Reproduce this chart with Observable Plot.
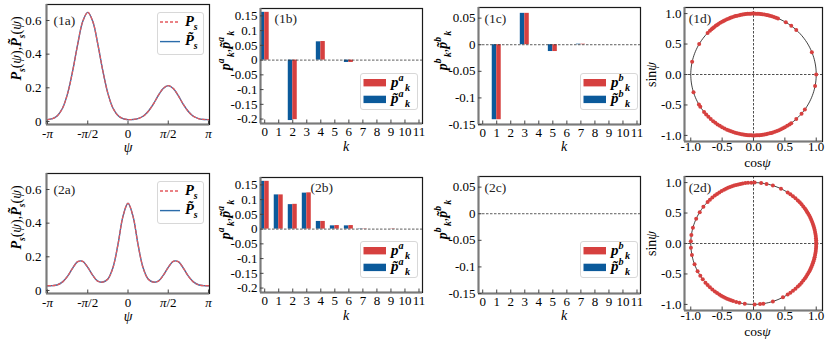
<!DOCTYPE html>
<html><head><meta charset="utf-8">
<script src="https://cdn.jsdelivr.net/npm/d3@7"></script>
<script src="https://cdn.jsdelivr.net/npm/@observablehq/plot@0.6"></script>
<style>
body{margin:0;background:#fff;}
#root{position:relative;width:830px;height:349px;overflow:hidden;background:#fff;font-family:"Liberation Serif",serif;}
#root svg{position:absolute;overflow:visible;font-family:"Liberation Serif","DejaVu Serif",serif !important;}
#root svg text{font-family:"Liberation Serif","DejaVu Serif",serif !important;}
</style></head>
<body><div id="root"></div>
<script>
const FONT = '"Liberation Serif","DejaVu Serif",serif';
const RED = "#d6403f", BLUE = "#0b5a9b";
const RED_LINE = "#e35a5e", BLUE_LINE = "#2b6caa";

// ---- data ----
const psiIndex = d3.range(33); // psi = -pi + n*pi/16
const ps1  = [0.011,0.017,0.036,0.080,0.167,0.300,0.459,0.594,0.648,0.594,0.459,0.300,0.167,0.080,0.036,0.017,0.011,0.012,0.017,0.031,0.059,0.101,0.153,0.196,0.213,0.196,0.153,0.101,0.059,0.031,0.017,0.012,0.011];
const ps1t = [0.011,0.017,0.036,0.080,0.167,0.300,0.459,0.594,0.648,0.594,0.459,0.300,0.167,0.080,0.036,0.017,0.011,0.012,0.017,0.031,0.059,0.101,0.153,0.196,0.213,0.196,0.153,0.101,0.059,0.031,0.017,0.012,0.011];
const ps2  = [0.028,0.029,0.034,0.051,0.085,0.133,0.171,0.173,0.137,0.090,0.055,0.050,0.068,0.135,0.272,0.440,0.518,0.440,0.272,0.135,0.068,0.050,0.055,0.090,0.137,0.173,0.171,0.133,0.085,0.051,0.034,0.029,0.028];
const ps2t = [0.028,0.029,0.034,0.051,0.085,0.133,0.171,0.173,0.137,0.090,0.055,0.050,0.068,0.135,0.272,0.440,0.518,0.440,0.272,0.135,0.068,0.050,0.055,0.090,0.137,0.173,0.171,0.133,0.085,0.051,0.034,0.029,0.028];
const psiTicks = [-Math.PI, -Math.PI/2, 0, Math.PI/2, Math.PI];
const psiTickLabels = ["-π","-π/2","0","π/2","π"];
const pTicks = [0,0.2,0.4,0.6];
const pTickLabels = ["0","0.2","0.4","0.6"];

const ks = [0,1,2,3,4,5,6,7,8,9,10,11];
const kLabels = ["0","1","2","3","4","5","6","7","8","9","10","11"];
const pa1  = [0.162,0,-0.202,0,0.063,0,-0.008,0,0,0,0,0];
const pa1t = [0.162,0,-0.205,0,0.062,0,-0.008,0,0,0,0,0];
const pb1  = [0,-0.141,0,0.059,0,-0.0128,0,0.001,0,0,0,0];
const pb1t = [0,-0.141,0,0.059,0,-0.0128,0,0.001,0,0,0,0];
const pa2  = [0.162,0.116,0.084,0.123,0.026,0.012,0.012,0.001,0,0.001,0,0];
const pa2t = [0.162,0.116,0.083,0.122,0.026,0.011,0.011,0.001,0,0,0,0];
const pb2  = [0,0,0,0,0,0,0,0,0,0,0,0];
const pb2t = [0,0,0,0,0,0,0,0,0,0,0,0];
const aTicks = [0.15,0.1,0.05,0,-0.05,-0.1,-0.15,-0.2];
const aTickLabels = ["0.15","0.1","0.05","0","-0.05","-0.1","-0.15","-0.2"];
const bTicks = [0.05,0,-0.05,-0.1,-0.15];
const bTickLabels = ["0.05","0","-0.05","-0.1","-0.15"];

// sample angles (degrees) on the unit circle
const ang1 = [168,150,137,134,132,130.5,129,127,125.5,124,122,120,118.5,117,115,113,111.5,110,108,106.5,105,103,101.5,100,98.5,97,95.5,94,92.5,91,89.5,88,86.5,85,83.5,82,80,78,76.5,75,73,71,69,67,59,53,47,21.5,0,-11,-35,-40,-47,-53,-55,-57.5,-60,-62,-64,-66,-68,-70,-72,-73.5,-75,-77,-78.5,-80,-81.5,-83,-84.5,-86,-87.5,-89,-90.5,-92,-93.5,-95,-96.5,-98,-99.5,-101,-103,-105,-107,-109,-111,-113,-115,-117.5,-120,-122.5,-125,-127.5,-130,-133,-136,-139,-142,-148,-150.5,-163];
const ang2 = [178,172,165,156,149,143,137,134,131,128,125.5,123,120.5,118,116,114,112,110,108,106,104,102,100,97.5,95,92,89,83,78,72,64,57,54,51,48,45,42.5,40,37.5,35,33,31,29,27,25,23,21,19,17,15,13,11,9,7,5,3,1,-1,-3,-5,-7,-9,-11,-13,-15,-17,-19,-21,-23,-25,-27,-29,-31,-33,-35,-37.5,-40,-42.5,-45,-48,-51,-54,-57,-62,-72,-81,-84,-89,-98,-103,-106,-109,-111,-113,-115,-117,-119,-121,-123,-125.5,-128,-131,-134,-137,-140,-144,-148,-153,-160,-169,-176];
const cTicks = [-1,-0.5,0,0.5,1];
const cTickLabels = ["-1.0","-0.5","0.0","0.5","1.0"];

// ---- rich text helpers ----
function tspans(parts, base) {
  let cur = 0, out = "";
  for (const [t, f = ""] of parts) {
    const small = f.includes("_") || f.includes("^");
    const shift = f.includes("^") ? -0.4*base : f.includes("_") ? 0.28*base : 0;
    const dy = shift - cur; cur = shift;
    const a = [];
    if (f.includes("B")) a.push('font-weight="bold"');
    if (f.includes("I")) a.push('font-style="italic"');
    if (small) a.push(`font-size="${(0.68*base).toFixed(1)}"`);
    if (dy) a.push(`dy="${dy.toFixed(2)}"`);
    if (f.includes("+")) a.push('dx="1.5"');
    out += `<tspan ${a.join(" ")}>${t}</tspan>`;
  }
  return out;
}
const YL_A = [["P","BI"],["s","BI_"],["("],["ψ","I"],["),"],["P\u0303","BI"],["s","BI_"],["("],["ψ","I"],[")"]];
const YL_B = [["p","BI"],["a","BI^"],["k","BI_+"],[","],["p\u0303","BI"],["a","BI^"],["k","BI_+"]];
const YL_C = [["p","BI"],["b","BI^"],["k","BI_+"],[","],["p\u0303","BI"],["b","BI^"],["k","BI_+"]];
const YL_D = [["sin"],["ψ","I"]];
const XL_A = [["ψ","I"]];
const XL_K = [["k","I"]];
const XL_D = [["cos"],["ψ","I"]];

const root = document.getElementById("root");

function build(c) {
  const fw = c.W - c.ml - c.mr, fh = c.H - c.mt - c.mb;
  const xmap = new Map(c.xt.map((d,i)=>[d,c.xtl[i]]));
  const ymap = new Map(c.yt.map((d,i)=>[d,c.ytl[i]]));
  const svg = Plot.plot({
    width: c.W, height: c.H,
    marginLeft: c.ml, marginRight: c.mr, marginTop: c.mt, marginBottom: c.mb,
    x: {domain: c.xd}, y: {domain: c.yd},
    style: {fontFamily: FONT, fontSize: "13px", color: "#000", background: "transparent", overflow: "visible"},
    marks: [
      ...c.marks,
      Plot.frame({stroke: "#1a1a1a", strokeWidth: 1.2}),
      Plot.ruleX([c.xd[0]], {stroke: "#7a7a7a", strokeWidth: 2}),
      Plot.ruleY([c.yd[0]], {stroke: "#7a7a7a", strokeWidth: 2}),
      Plot.tickX(c.xt, {x: d=>d, stroke: "#444", strokeWidth: 1, insetTop: fh - 3.5}),
      Plot.tickY(c.yt, {y: d=>d, stroke: "#444", strokeWidth: 1, insetRight: fw - 3.5}),
      Plot.axisX({ticks: c.xt, tickSize: 0, tickPadding: c.xPad, tickFormat: d=>xmap.get(d), label: null, fontSize: 13}),
      Plot.axisY({ticks: c.yt, tickSize: 0, tickPadding: c.yPad, tickFormat: d=>ymap.get(d), label: null, fontSize: 13}),
      Plot.text([c.tag], {text: d=>d, frameAnchor: "top-left", textAnchor: "start", lineAnchor: "middle", dx: c.tagDx, dy: c.tagDy, fontSize: 13.5, fill: "#222"}),
      Plot.text(["§X§"], {text: d=>d, frameAnchor: "bottom", textAnchor: "middle", lineAnchor: "middle", dx: c.xlabDx, dy: c.xlabDy, fontSize: c.xlabSize || 14}),
      Plot.text(["§Y§"], {text: d=>d, frameAnchor: "left", textAnchor: "middle", lineAnchor: "middle", dx: c.ylabDx, dy: c.ylabDy, rotate: -90, fontSize: 14})
    ]
  });
  svg.setAttribute("font-family", FONT);
  d3.select(svg).selectAll("text").each(function() {
    const s = this.textContent;
    if (s === "§X§") this.innerHTML = tspans(c.xlab, c.xlabSize || 14);
    else if (s === "§Y§") this.innerHTML = tspans(c.ylab, 14);
    else if (s.includes("π")) this.innerHTML = s.replace(/π/g, '<tspan font-style="italic">π</tspan>');
  });
  svg.style.left = c.left + "px";
  svg.style.top = c.top + "px";
  root.appendChild(svg);
}

function panelA(left, top, v, vt, tag) {
  const rows = psiIndex.map(n => ({psi: -Math.PI + n*Math.PI/16, v: v[n], vt: vt[n]}));
  build({
    left, top, W: 215, H: 170, ml: 46, mr: 6, mt: 4, mb: 46,
    xd: [-Math.PI - 0.04, Math.PI + 0.04], yd: [-0.018, 0.695],
    marks: [
      Plot.line(rows, {x: "psi", y: "vt", stroke: BLUE_LINE, strokeWidth: 1.4, curve: "catmull-rom"}),
      Plot.line(rows, {x: "psi", y: "v", stroke: RED_LINE, strokeWidth: 1.3, strokeDasharray: "3,2", curve: "catmull-rom"})
    ],
    xt: psiTicks, xtl: psiTickLabels, yt: pTicks, ytl: pTickLabels, xPad: 4, yPad: 5,
    tag, tagDx: 7, tagDy: 16,
    xlab: XL_A, xlabDx: 0, xlabDy: 23,
    ylab: YL_A, ylabDx: -30, ylabDy: -16
  });
}

const BW = 0.32;
function panelB(left, top, red, blue, tag, tagDx) {
  const rows = ks.map(k => ({k, red: red[k], blue: blue[k]}));
  build({
    left, top, W: 215, H: 170, ml: 45, mr: 8, mt: 8, mb: 47,
    xd: [-0.3, 11.25], yd: [-0.215, 0.175],
    marks: [
      Plot.rect(rows.filter(d => d.blue !== 0), {x1: d => d.k - BW, x2: d => d.k, y1: 0, y2: "blue", fill: BLUE, clip: true}),
      Plot.rect(rows.filter(d => d.red !== 0), {x1: d => d.k, x2: d => d.k + BW, y1: 0, y2: "red", fill: RED, clip: true}),
      Plot.ruleY([0], {stroke: "#333", strokeWidth: 0.8, strokeDasharray: "2.5,1.5"})
    ],
    xt: ks, xtl: kLabels, yt: aTicks, ytl: aTickLabels, xPad: 3.5, yPad: 3,
    tag, tagDx, tagDy: 10.3,
    xlab: XL_K, xlabDx: 4.5, xlabDy: 23,
    ylab: YL_B, ylabDx: -35, ylabDy: -15.5
  });
}

function panelC(left, top, red, blue, tag) {
  const rows = ks.map(k => ({k, red: red[k], blue: blue[k]}));
  build({
    left, top, W: 212, H: 170, ml: 48, mr: 2, mt: 7, mb: 46,
    xd: [-0.3, 11.25], yd: [-0.15, 0.07],
    marks: [
      Plot.rect(rows.filter(d => d.blue !== 0), {x1: d => d.k - BW, x2: d => d.k, y1: 0, y2: "blue", fill: BLUE, clip: true}),
      Plot.rect(rows.filter(d => d.red !== 0), {x1: d => d.k, x2: d => d.k + BW, y1: 0, y2: "red", fill: RED, clip: true}),
      Plot.ruleY([0], {stroke: "#333", strokeWidth: 0.8, strokeDasharray: "2.5,1.5"})
    ],
    xt: ks, xtl: kLabels, yt: bTicks, ytl: bTickLabels, xPad: 3.5, yPad: 3,
    tag, tagDx: 6, tagDy: 11.3,
    xlab: XL_K, xlabDx: 4.7, xlabDy: 22.5,
    ylab: YL_C, ylabDx: -36.3, ylabDy: -15.5
  });
}

function panelD(left, top, angles, tag) {
  const rad = Math.PI/180;
  const pts = angles.map(a => ({x: Math.cos(a*rad), y: Math.sin(a*rad)}));
  const circle = d3.range(0, 361, 2).map(a => ({x: Math.cos(a*rad), y: Math.sin(a*rad)}));
  build({
    left, top, W: 188, H: 170, ml: 42, mr: 8, mt: 7, mb: 29,
    xd: [-1.1, 1.1], yd: [-1.1, 1.1],
    marks: [
      Plot.ruleX([0], {stroke: "#222", strokeWidth: 0.8, strokeDasharray: "2.5,1.5"}),
      Plot.ruleY([0], {stroke: "#222", strokeWidth: 0.8, strokeDasharray: "2.5,1.5"}),
      Plot.line(circle, {x: "x", y: "y", stroke: "#111", strokeWidth: 0.8}),
      Plot.dot(pts, {x: "x", y: "y", r: 2, fill: RED, stroke: "none"})
    ],
    xt: cTicks, xtl: cTickLabels, yt: cTicks, ytl: cTickLabels, xPad: 0.5, yPad: 3,
    tag, tagDx: 4.3, tagDy: 11.3,
    xlab: XL_D, xlabDx: 4, xlabDy: 21, xlabSize: 13.5,
    ylab: YL_D, ylabDx: -33.3, ylabDy: 0
  });
}

const R2 = 169;
panelA(0, 0, ps1, ps1t, "(1a)");
panelB(215, 0, pa1, pa1t, "(1b)", 14);
panelC(430, 0, pb1, pb1t, "(1c)");
panelD(642, 0, ang1, "(1d)");
panelA(0, R2, ps2, ps2t, "(2a)");
panelB(215, R2, pa2, pa2t, "(2b)", 50);
panelC(430, R2, pb2, pb2t, "(2c)");
panelD(642, R2, ang2, "(2d)");

// ---- legends ----
const LG_A1 = [["P","BI"],["s","BI_"]];
const LG_A2 = [["P\u0303","BI"],["s","BI_"]];
const LG_B1 = [["p","BI"],["a","BI^"],["k","BI_+"]];
const LG_B2 = [["p\u0303","BI"],["a","BI^"],["k","BI_+"]];
const LG_C1 = [["p","BI"],["b","BI^"],["k","BI_+"]];
const LG_C2 = [["p\u0303","BI"],["b","BI^"],["k","BI_+"]];

function addSVG(html, left, top, w, h) {
  const wrap = document.createElementNS("http://www.w3.org/2000/svg", "svg");
  wrap.setAttribute("width", w); wrap.setAttribute("height", h);
  wrap.setAttribute("font-family", FONT);
  wrap.style.left = left + "px"; wrap.style.top = top + "px";
  wrap.innerHTML = html;
  root.appendChild(wrap);
}
function legendLines(left, top) {
  const w = 47, h = 43;
  addSVG(`<rect x="0.5" y="0.5" width="${w-1}" height="${h-1}" rx="2.5" fill="rgba(255,255,255,0.85)" stroke="#d8d8d8"/>
    <line x1="3" x2="23" y1="10" y2="10" stroke="${RED_LINE}" stroke-width="1.3" stroke-dasharray="3,2"/>
    <line x1="3" x2="23" y1="29.6" y2="29.6" stroke="${BLUE_LINE}" stroke-width="1.4"/>
    <text x="28" y="14" font-size="14.5">${tspans(LG_A1, 14.5)}</text>
    <text x="28" y="32.8" font-size="14.5">${tspans(LG_A2, 14.5)}</text>`, left, top, w, h);
}
function legendBars(left, top, p1, p2) {
  const w = 58, h = 37;
  addSVG(`<rect x="0.5" y="0.5" width="${w-1}" height="${h-1}" rx="2.5" fill="rgba(255,255,255,0.85)" stroke="#d8d8d8"/>
    <rect x="3.5" y="6" width="22.5" height="7.4" fill="${RED}"/>
    <rect x="3.5" y="22.7" width="22.5" height="7.4" fill="${BLUE}"/>
    <text x="31" y="13.5" font-size="15">${tspans(p1, 15)}</text>
    <text x="31" y="30" font-size="15">${tspans(p2, 15)}</text>`, left, top, w, h);
}
legendLines(157, 12);
legendBars(360, 73, LG_B1, LG_B2);
legendBars(580, 73, LG_C1, LG_C2);
legendLines(157, 12 + R2);
legendBars(360, 72 + R2, LG_B1, LG_B2);
legendBars(580, 72 + R2, LG_C1, LG_C2);
</script>
</body></html>
